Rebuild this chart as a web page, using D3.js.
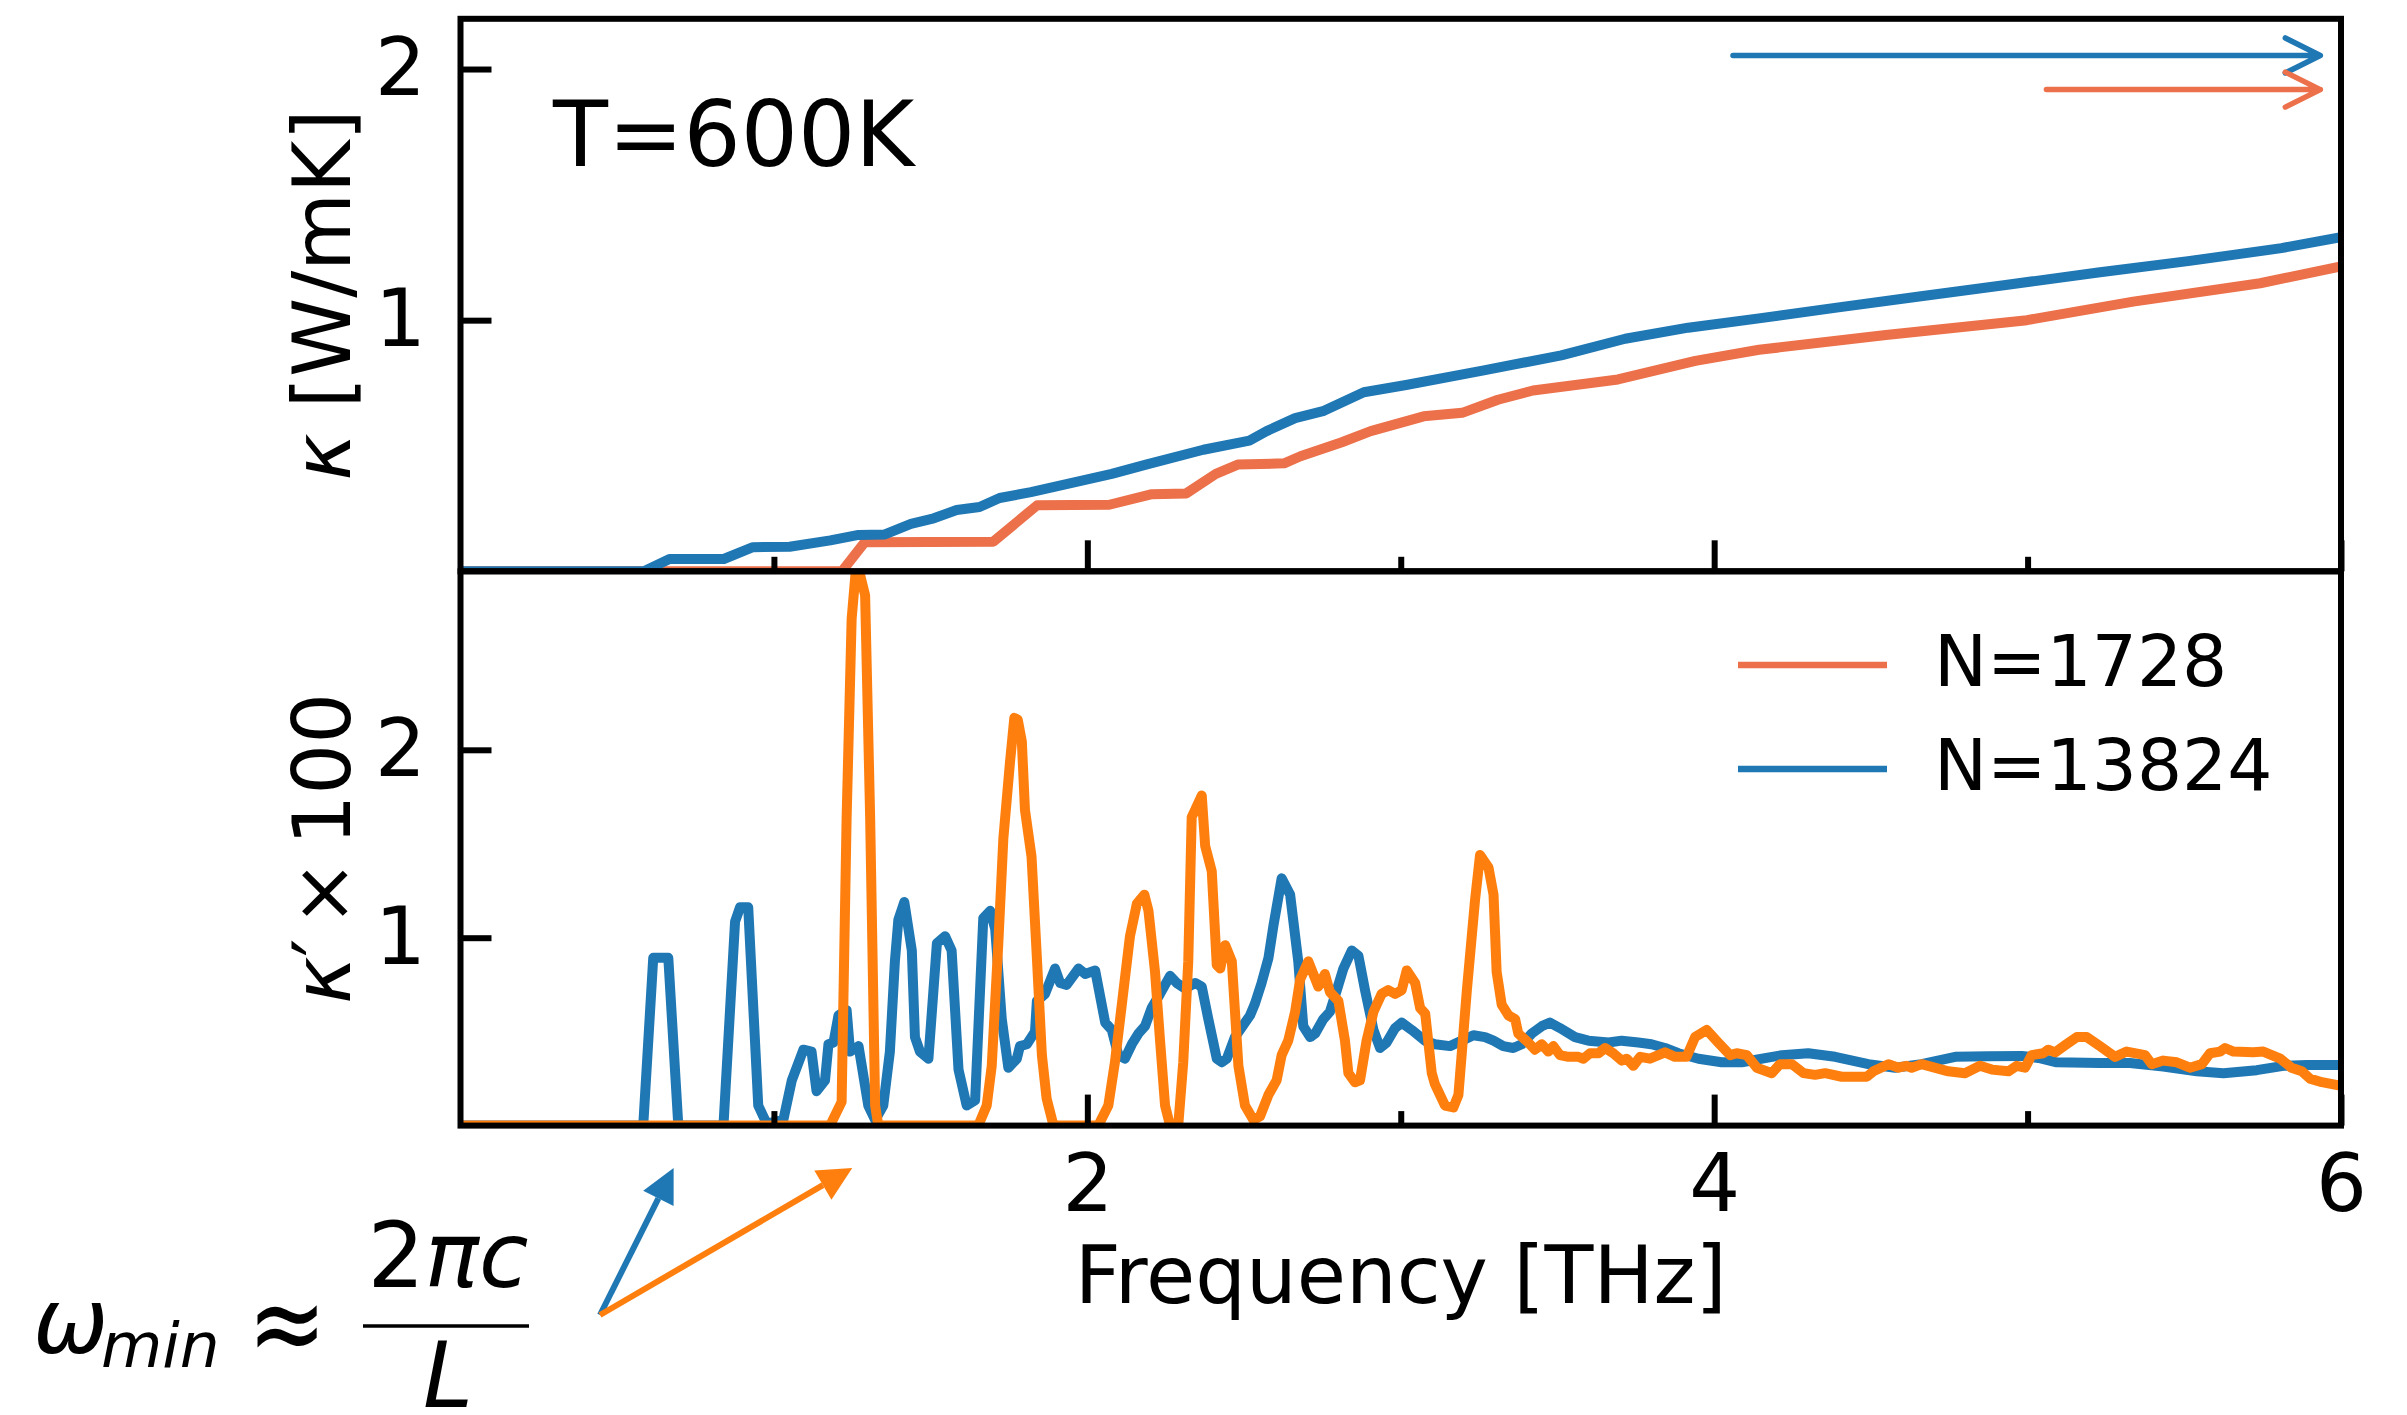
<!DOCTYPE html>
<html>
<head>
<meta charset="utf-8">
<script src="https://cdn.jsdelivr.net/npm/d3@7"></script>
<style>
  html, body { margin: 0; padding: 0; background: #fff; }
  svg { display: block; }
  text { font-family: "DejaVu Sans", sans-serif; fill: #000; }
</style>
</head>
<body>
<svg id="chart" width="2407" height="1415"></svg>
<script>
// ---- tick values ----
const freqMajorTicks = [2, 4, 6];
const freqMinorTicks = [1, 3, 5];
const kappaTicks = [1, 2];
const kappaPrimeTicks = [1, 2];

// ---- series labels ----
const seriesLabels = ["N=1728", "N=13824"];
const temperatureLabel = "T=600K";

// ---- cumulative conductivity kappa(omega) [W/mK], pairs of [THz, value] ----
const cumulative13824 = [
  [0,0],[0.585,0],[0.667,0.049],[0.84,0.049],[0.933,0.096],[1.05,0.098],[1.18,0.123],[1.27,0.145],
  [1.354,0.147],[1.437,0.189],[1.51,0.211],[1.583,0.244],[1.656,0.256],[1.72,0.292],[1.82,0.315],
  [2.078,0.388],[2.187,0.425],[2.37,0.484],[2.517,0.52],[2.572,0.558],[2.663,0.61],[2.755,0.639],
  [2.882,0.713],[3.017,0.742],[3.265,0.80],[3.512,0.86],[3.716,0.926],[3.917,0.97],[4.143,1.007],
  [4.391,1.05],[4.66,1.095],[4.93,1.14],[5.225,1.19],[5.518,1.236],[5.81,1.287],[6.0,1.33]
];
const cumulative1728 = [
  [0,0],[1.217,0],[1.29,0.116],[1.70,0.118],[1.84,0.263],[2.07,0.265],[2.206,0.307],[2.315,0.31],
  [2.41,0.388],[2.48,0.425],[2.628,0.43],[2.68,0.458],[2.812,0.514],[2.904,0.558],[3.073,0.617],
  [3.196,0.631],[3.31,0.683],[3.422,0.72],[3.693,0.764],[3.94,0.838],[4.143,0.882],[4.548,0.941],
  [4.998,1.0],[5.337,1.074],[5.742,1.147],[6.0,1.214]
];

// ---- converged totals (arrows at the top right) ----
const kappaTotal13824 = 2.054;
const kappaTotal1728 = 1.918;

// ---- spectral derivative kappa'(omega) x 100, pairs of [THz, value] ----
const derivative13824 = [
  [0,0],[0.583,0],[0.615,0.893],[0.663,0.893],[0.695,0],[0.839,0],[0.876,1.085],[0.892,1.162],
  [0.918,1.162],[0.95,0.107],[0.977,0.01],[1.03,0.03],[1.057,0.24],[1.094,0.404],[1.12,0.394],
  [1.136,0.183],[1.163,0.24],[1.174,0.433],[1.19,0.442],[1.206,0.586],[1.232,0.615],[1.243,0.394],
  [1.27,0.423],[1.301,0.107],[1.323,0.03],[1.349,0.107],[1.37,0.394],[1.386,0.874],[1.397,1.095],
  [1.416,1.19],[1.44,0.932],[1.45,0.471],[1.466,0.394],[1.493,0.356],[1.52,0.97],[1.546,1.008],
  [1.567,0.932],[1.589,0.298],[1.615,0.107],[1.642,0.135],[1.668,1.104],[1.69,1.143],[1.706,1.047],
  [1.727,0.567],[1.748,0.308],[1.775,0.356],[1.785,0.423],[1.807,0.433],[1.833,0.5],[1.839,0.663],
  [1.865,0.701],[1.897,0.836],[1.913,0.759],[1.934,0.749],[1.972,0.836],[1.993,0.807],[2.025,0.826],
  [2.057,0.548],[2.078,0.509],[2.099,0.375],[2.12,0.356],[2.142,0.433],[2.163,0.49],[2.184,0.529],
  [2.205,0.625],[2.232,0.701],[2.264,0.797],[2.285,0.759],[2.312,0.73],[2.344,0.759],[2.365,0.74],
  [2.386,0.567],[2.413,0.356],[2.429,0.337],[2.445,0.356],[2.471,0.471],[2.519,0.586],[2.535,0.65],
  [2.556,0.759],[2.578,0.893],[2.594,1.066],[2.62,1.316],[2.647,1.229],[2.673,0.874],[2.689,0.529],
  [2.711,0.471],[2.727,0.49],[2.753,0.567],[2.774,0.606],[2.796,0.721],[2.817,0.836],[2.844,0.932],
  [2.865,0.903],[2.886,0.721],[2.913,0.509],[2.934,0.413],[2.955,0.442],[2.982,0.519],[3.003,0.548],
  [3.035,0.509],[3.077,0.452],[3.109,0.433],[3.157,0.423],[3.195,0.452],[3.232,0.481],[3.269,0.471],
  [3.296,0.452],[3.327,0.423],[3.359,0.413],[3.386,0.433],[3.418,0.49],[3.45,0.529],[3.476,0.548],
  [3.508,0.519],[3.556,0.471],[3.599,0.452],[3.663,0.442],[3.705,0.452],[3.758,0.442],[3.8,0.433],
  [3.843,0.413],[3.886,0.385],[3.95,0.356],[4.024,0.337],[4.088,0.337],[4.216,0.375],[4.3,0.385],
  [4.386,0.366],[4.492,0.327],[4.577,0.308],[4.662,0.327],[4.769,0.366],[4.875,0.369],[4.981,0.371],
  [5.035,0.36],[5.093,0.337],[5.231,0.333],[5.327,0.333],[5.433,0.314],[5.54,0.289],[5.625,0.279],
  [5.731,0.295],[5.816,0.318],[5.891,0.323],[6.0,0.323]
];
const derivative1728 = [
  [0,0],[1.179,0],[1.216,0.126],[1.232,1.642],[1.248,2.697],[1.262,2.97],[1.275,2.93],[1.291,2.822],
  [1.307,1.642],[1.323,0.107],[1.333,0],[1.652,0],[1.679,0.107],[1.695,0.318],[1.716,0.97],
  [1.732,1.527],[1.753,1.93],[1.767,2.17],[1.778,2.16],[1.791,2.045],[1.801,1.68],[1.822,1.431],
  [1.839,0.893],[1.855,0.375],[1.87,0.145],[1.892,0],[2.035,0],[2.067,0.107],[2.088,0.337],
  [2.11,0.644],[2.136,1.008],[2.158,1.181],[2.182,1.229],[2.195,1.143],[2.216,0.817],[2.232,0.452],
  [2.248,0.107],[2.264,0],[2.29,0],[2.306,0.337],[2.322,0.874],[2.333,1.642],[2.344,1.68],
  [2.365,1.757],[2.376,1.488],[2.397,1.354],[2.413,0.855],[2.424,0.836],[2.44,0.96],[2.461,0.874],
  [2.482,0.318],[2.503,0.107],[2.53,0.03],[2.551,0.049],[2.578,0.164],[2.604,0.241],[2.62,0.375],
  [2.641,0.452],[2.663,0.606],[2.679,0.778],[2.705,0.874],[2.737,0.74],[2.758,0.807],[2.774,0.711],
  [2.801,0.663],[2.822,0.452],[2.833,0.279],[2.854,0.231],[2.87,0.241],[2.891,0.452],[2.913,0.606],
  [2.939,0.701],[2.96,0.721],[2.982,0.701],[3.003,0.721],[3.019,0.826],[3.046,0.759],[3.062,0.625],
  [3.078,0.596],[3.099,0.279],[3.109,0.221],[3.141,0.107],[3.168,0.097],[3.184,0.164],[3.211,0.721],
  [3.237,1.2],[3.253,1.44],[3.28,1.373],[3.296,1.229],[3.306,0.817],[3.322,0.644],[3.344,0.586],
  [3.365,0.567],[3.375,0.49],[3.407,0.442],[3.428,0.404],[3.45,0.433],[3.471,0.394],[3.487,0.423],
  [3.508,0.375],[3.535,0.366],[3.567,0.366],[3.583,0.356],[3.604,0.385],[3.631,0.385],[3.652,0.413],
  [3.678,0.385],[3.705,0.346],[3.721,0.356],[3.742,0.318],[3.764,0.366],[3.795,0.356],[3.843,0.39],
  [3.875,0.366],[3.912,0.366],[3.939,0.471],[3.976,0.509],[4.013,0.442],[4.051,0.375],[4.072,0.385],
  [4.104,0.375],[4.136,0.308],[4.184,0.279],[4.21,0.327],[4.248,0.327],[4.285,0.279],[4.322,0.27],
  [4.354,0.279],[4.407,0.26],[4.45,0.26],[4.487,0.26],[4.508,0.289],[4.556,0.327],[4.588,0.308],
  [4.614,0.318],[4.63,0.308],[4.662,0.327],[4.747,0.289],[4.8,0.279],[4.848,0.318],[4.886,0.298],
  [4.939,0.289],[4.965,0.318],[4.992,0.308],[5.013,0.375],[5.05,0.385],[5.066,0.404],[5.088,0.39],
  [5.12,0.428],[5.157,0.471],[5.189,0.471],[5.231,0.423],[5.279,0.366],[5.316,0.394],[5.375,0.375],
  [5.396,0.327],[5.433,0.346],[5.476,0.337],[5.518,0.308],[5.556,0.327],[5.582,0.385],[5.614,0.394],
  [5.63,0.413],[5.657,0.394],[5.72,0.39],[5.752,0.394],[5.806,0.356],[5.842,0.308],[5.875,0.289],
  [5.901,0.25],[5.939,0.231],[6.0,0.212]
];

// ---- lowest accessible frequency for each cell size [THz] ----
const omegaMin13824 = 0.68;
const omegaMin1728 = 1.25;

// ---- colours ----
const BLUE = "#1f77b4";
const SALMON = "#ec7049";
const ORANGE = "#ff7f0e";

// ---- layout ----
const W = 2407, H = 1415;
const left = 460.5, right = 2341;
const topY = 18.8, midY = 571.3, botY = 1125.6;
const FONT = "DejaVu Sans";
const LW = 10, SPINE = 6, MAJOR = 31, MINOR = 14.5;

const svg = d3.select("#chart");
svg.append("rect").attr("width", W).attr("height", H).attr("fill", "#fff");

const x = d3.scaleLinear().domain([0, 6]).range([left, right]);
const yTop = d3.scaleLinear().domain([0, 2.2]).range([midY, topY]);
const yBot = d3.scaleLinear().domain([0, 2.95]).range([botY, midY]);

const defs = svg.append("defs");
defs.append("clipPath").attr("id", "clipTop").append("rect")
  .attr("x", left).attr("y", topY).attr("width", right - left).attr("height", midY - topY);
defs.append("clipPath").attr("id", "clipBot").append("rect")
  .attr("x", left).attr("y", midY).attr("width", right - left).attr("height", botY - midY);

// ---- upper panel: cumulative kappa ----
const lineTop = d3.line().x(d => x(d[0])).y(d => yTop(d[1]));
const gTop = svg.append("g").attr("clip-path", "url(#clipTop)");
[[cumulative1728, SALMON], [cumulative13824, BLUE]].forEach(([data, col]) => {
  gTop.append("path").datum(data).attr("d", lineTop)
    .attr("fill", "none").attr("stroke", col).attr("stroke-width", LW)
    .attr("stroke-linejoin", "round");
});

// ---- lower panel: derivative ----
const lineBot = d3.line().x(d => x(d[0])).y(d => yBot(d[1]));
const gBot = svg.append("g").attr("clip-path", "url(#clipBot)");
[[derivative13824, BLUE], [derivative1728, ORANGE]].forEach(([data, col]) => {
  gBot.append("path").datum(data).attr("d", lineBot)
    .attr("fill", "none").attr("stroke", col).attr("stroke-width", LW)
    .attr("stroke-linejoin", "round");
});

// ---- axes ----
function styleAxis(g) {
  g.select(".domain").remove();
  g.attr("font-family", FONT).attr("font-size", 80);
  g.selectAll(".tick line").attr("stroke", "#000").attr("stroke-width", SPINE);
  g.selectAll(".tick text").attr("fill", "#000");
}
// upper panel ticks (no frequency labels)
svg.append("g").attr("transform", `translate(0,${midY})`)
  .call(d3.axisBottom(x).tickValues(freqMajorTicks).tickSize(-MAJOR).tickFormat(() => ""))
  .call(styleAxis);
svg.append("g").attr("transform", `translate(0,${midY})`)
  .call(d3.axisBottom(x).tickValues(freqMinorTicks).tickSize(-MINOR).tickFormat(() => ""))
  .call(styleAxis);
svg.append("g").attr("transform", `translate(${left},0)`)
  .call(d3.axisLeft(yTop).tickValues(kappaTicks).tickSize(-MAJOR).tickPadding(34.5).tickFormat(d3.format("d")))
  .call(styleAxis);
// lower panel ticks
svg.append("g").attr("transform", `translate(0,${botY})`)
  .call(d3.axisBottom(x).tickValues(freqMajorTicks).tickSize(-MAJOR).tickPadding(29).tickFormat(d3.format("d")))
  .call(styleAxis);
svg.append("g").attr("transform", `translate(0,${botY})`)
  .call(d3.axisBottom(x).tickValues(freqMinorTicks).tickSize(-MINOR).tickFormat(() => ""))
  .call(styleAxis);
svg.append("g").attr("transform", `translate(${left},0)`)
  .call(d3.axisLeft(yBot).tickValues(kappaPrimeTicks).tickSize(-MAJOR).tickPadding(34.5).tickFormat(d3.format("d")))
  .call(styleAxis);

// ---- frames ----
svg.append("rect").attr("x", left).attr("y", topY).attr("width", right - left).attr("height", midY - topY)
  .attr("fill", "none").attr("stroke", "#000").attr("stroke-width", SPINE);
svg.append("rect").attr("x", left).attr("y", midY).attr("width", right - left).attr("height", botY - midY)
  .attr("fill", "none").attr("stroke", "#000").attr("stroke-width", SPINE);

// ---- axis titles ----
const yl1 = svg.append("text").attr("transform", `translate(350,${(topY + midY) / 2}) rotate(-90)`)
  .attr("text-anchor", "middle").attr("font-size", 80);
yl1.append("tspan").attr("font-style", "italic").text("κ");
yl1.append("tspan").text(" [W/mK]");

const yl2 = svg.append("text").attr("transform", `translate(350,${(midY + botY) / 2}) rotate(-90)`)
  .attr("text-anchor", "middle").attr("font-size", 80);
yl2.append("tspan").attr("font-style", "italic").text("κ");
yl2.append("tspan").text("′");
yl2.append("tspan").attr("dx", 12).text("×");
yl2.append("tspan").attr("dx", 14).text("100");

svg.append("text").attr("x", (left + right) / 2).attr("y", 1303)
  .attr("text-anchor", "middle").attr("font-size", 80).text("Frequency [THz]");

// ---- temperature tag ----
svg.append("text").attr("x", 553).attr("y", 166).attr("font-size", 90).text(temperatureLabel);

// ---- converged-value arrows in the upper panel ----
const tipF = 5.934;
[[kappaTotal13824, 4.06, BLUE], [kappaTotal1728, 5.06, SALMON]].forEach(([k, f0, col]) => {
  const y = yTop(k), xt = x(tipF);
  svg.append("path")
    .attr("d", `M${x(f0)},${y}L${xt},${y}M${xt - 35},${y - 17.5}L${xt},${y}L${xt - 35},${y + 17.5}`)
    .attr("fill", "none").attr("stroke", col).attr("stroke-width", 5.5)
    .attr("stroke-linecap", "round").attr("stroke-linejoin", "round");
});

// ---- legend ----
[[seriesLabels[0], SALMON, 665], [seriesLabels[1], BLUE, 769]].forEach(([lab, col, y]) => {
  svg.append("line").attr("x1", 1738).attr("x2", 1887).attr("y1", y).attr("y2", y)
    .attr("stroke", col).attr("stroke-width", 6.5);
  svg.append("text").attr("x", 1934).attr("y", y + 21).attr("font-size", 71).text(lab);
});

// ---- omega_min annotation ----
const m = svg.append("g");
m.append("text").attr("x", 33).attr("y", 1353).attr("font-size", 90).attr("font-style", "italic").text("ω");
m.append("text").attr("x", 101).attr("y", 1367).attr("font-size", 63).attr("font-style", "italic").text("min");
m.append("text").attr("transform", "translate(287,1324) scale(1.05,1.3)")
  .attr("y", 30).attr("font-size", 90).attr("text-anchor", "middle").text("≈");
const num = m.append("text").attr("x", 448).attr("y", 1287).attr("font-size", 90).attr("text-anchor", "middle");
num.append("tspan").text("2");
num.append("tspan").attr("font-style", "italic").text("πc");
m.append("line").attr("x1", 363).attr("x2", 529).attr("y1", 1326).attr("y2", 1326)
  .attr("stroke", "#000").attr("stroke-width", 3.5);
m.append("text").attr("x", 448).attr("y", 1407).attr("font-size", 90).attr("text-anchor", "middle")
  .attr("font-style", "italic").text("L");

// arrows from the formula to the lowest frequencies
const tail = [600, 1315];
[[omegaMin13824, BLUE], [omegaMin1728, ORANGE]].forEach(([f, col]) => {
  const tip = [x(f), 1168];
  const dx = tip[0] - tail[0], dy = tip[1] - tail[1];
  const len = Math.hypot(dx, dy), ux = dx / len, uy = dy / len;
  const hl = 34, hw = 17;
  const bx = tip[0] - ux * hl, by = tip[1] - uy * hl;
  m.append("line").attr("x1", tail[0]).attr("y1", tail[1]).attr("x2", bx).attr("y2", by)
    .attr("stroke", col).attr("stroke-width", 6);
  m.append("path")
    .attr("d", `M${tip[0]},${tip[1]}L${bx - uy * hw},${by + ux * hw}L${bx + uy * hw},${by - ux * hw}Z`)
    .attr("fill", col);
});
</script>
</body>
</html>
